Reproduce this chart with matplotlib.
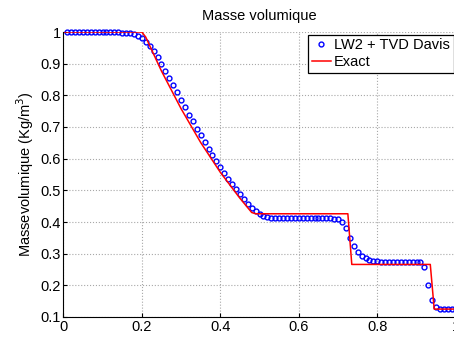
import numpy as np
import matplotlib
matplotlib.use('Agg')
import matplotlib.pyplot as plt

plt.rcParams['font.family'] = ['Liberation Sans', 'DejaVu Sans']

# numerical solution (LW2 + TVD Davis), one value per cell, cells at x = 0.01 ... 1.00
x_num = np.arange(1, 101) / 100
rho_num = [1.000, 1.000, 1.000, 1.000, 1.000, 1.000, 1.000, 1.000, 1.000, 1.000,
           1.000, 1.000, 0.999, 0.999, 0.998, 0.997, 0.996, 0.993, 0.988, 0.980,
           0.969, 0.956, 0.939, 0.920, 0.900, 0.878, 0.856, 0.832, 0.810, 0.785,
           0.762, 0.739, 0.718, 0.695, 0.674, 0.653, 0.632, 0.612, 0.594, 0.573,
           0.554, 0.536, 0.519, 0.503, 0.488, 0.472, 0.458, 0.445, 0.435, 0.426,
           0.420, 0.416, 0.414, 0.413, 0.413, 0.413, 0.413, 0.413, 0.413, 0.413,
           0.413, 0.413, 0.413, 0.413, 0.413, 0.413, 0.413, 0.412, 0.411, 0.409,
           0.400, 0.380, 0.348, 0.323, 0.305, 0.294, 0.286, 0.281, 0.278, 0.276,
           0.275, 0.275, 0.275, 0.275, 0.275, 0.274, 0.274, 0.274, 0.274, 0.274,
           0.274, 0.259, 0.201, 0.153, 0.131, 0.126, 0.125, 0.125, 0.125, 0.125]

# exact solution
x_exact = [0.0, 0.20, 0.21, 0.25, 0.30, 0.35, 0.40, 0.45, 0.48, 0.49,
           0.725, 0.735, 0.935, 0.945, 1.0]
rho_exact = [1.0, 1.0, 0.984, 0.877, 0.758, 0.651, 0.557, 0.475, 0.430, 0.426,
             0.426, 0.266, 0.266, 0.125, 0.125]

fs = 10.5

fig = plt.figure(figsize=(4.54, 3.38), dpi=100)
ax = fig.add_axes([63.3 / 454, 21 / 338, (455.8 - 63.3) / 454, 285 / 338])

ax.plot(x_num, rho_num, 'o', color='blue', markerfacecolor='none',
        markersize=3.5, markeredgewidth=1.0, label='LW2 + TVD Davis', clip_on=False)
ax.plot(x_exact, rho_exact, '-', color='red', lw=1.1, label='Exact')

ax.set_xlim(0, 1)
ax.set_ylim(0.1, 1)
ax.set_xticks([0, 0.2, 0.4, 0.6, 0.8, 1])
ax.set_xticklabels(['0', '0.2', '0.4', '0.6', '0.8', '1'])
ax.set_yticks([0.1, 0.2, 0.3, 0.4, 0.5, 0.6, 0.7, 0.8, 0.9, 1])
ax.set_yticklabels(['0.1', '0.2', '0.3', '0.4', '0.5', '0.6', '0.7', '0.8', '0.9', '1'])
ax.tick_params(direction='in', length=3, labelsize=fs, colors='black', pad=2)
ax.grid(True, linestyle=':', color='#a8a8a8', lw=0.8)
ax.spines['top'].set_visible(False)
ax.spines['right'].set_visible(False)

ax.set_title('Masse volumique', fontsize=fs, pad=8.5)
ax.set_ylabel('Massevolumique (Kg/m$^3$)', fontsize=fs, labelpad=3)

leg = ax.legend(loc='upper right', bbox_to_anchor=(453.7 / 454, 1 - 34.7 / 338),
                bbox_transform=fig.transFigure, borderaxespad=0, fontsize=fs,
                fancybox=False, framealpha=1, edgecolor='black',
                handlelength=1.35, handletextpad=0.2, borderpad=0.25,
                labelspacing=0.2)
leg.get_frame().set_linewidth(0.9)

fig.savefig('out.png', dpi=100)
